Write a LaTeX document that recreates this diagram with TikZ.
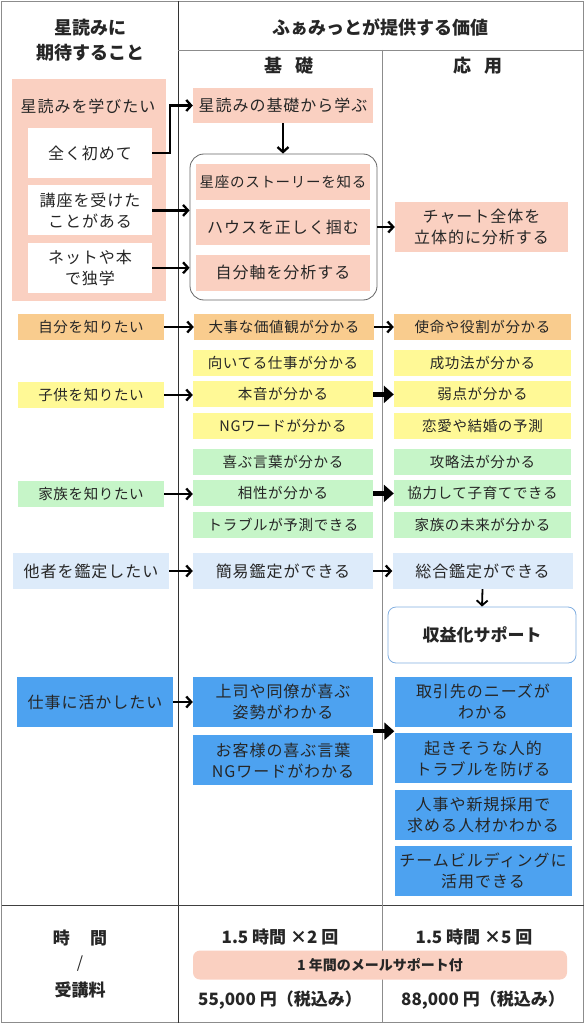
\documentclass[tikz,border=0pt]{standalone}
\usepackage{fontspec}
\setmainfont{Noto Sans CJK JP}
\usepackage{xcolor}
\usepackage{tikz}
\usetikzlibrary{arrows.meta,positioning}
\definecolor{pinkbg}{RGB}{250,208,193}
\definecolor{orangebg}{RGB}{249,204,142}
\definecolor{yellowbg}{RGB}{255,249,150}
\definecolor{greenbg}{RGB}{198,245,200}
\definecolor{skybg}{RGB}{221,235,250}
\definecolor{bluebg}{RGB}{77,162,240}
\definecolor{lineblue}{RGB}{130,175,225}
\newcommand{\bigtxt}{\fontsize{16}{21}\selectfont\addfontfeature{LetterSpace=6}}
\newcommand{\smalltxt}{\fontsize{14.5}{18}\selectfont\addfontfeature{LetterSpace=4.5}}
\newcommand{\headtxt}{\fontsize{18}{25}\selectfont\bfseries}
\newcommand{\sumtxt}{\fontsize{17}{20}\selectfont\bfseries}

\begin{document}
\begin{tikzpicture}[
    x=1pt, y=-1pt,
    box/.style={
        inner sep=0pt,
        align=center,
        text=black!85,
        font=\bigtxt
    },
    row/.style={box, minimum height=26pt, font=\smalltxt},
    mid/.style={minimum width=180pt},
    side/.style={minimum width=177pt},
    ask/.style={minimum width=146pt},
    arrow/.style={-{Straight Barb[length=5pt,width=11pt]}, line width=2.3pt},
    bigarrow/.style={-{Triangle[length=10pt,width=17pt]}, line width=4.5pt},
    rule/.style={draw=black!45, line width=0.8pt},
    node distance=5pt
]
\useasboundingbox (0,0) rectangle (585,1024);

\draw[rule] (1.5,1) rectangle (583.5,1022.5);
\draw[rule, draw=black!80] (178,1) -- (178,1022.5);
\draw[rule] (178,50) -- (583.5,50);
\draw[rule] (382,50) -- (382,905);
\draw[rule, draw=black!75] (1.5,905) -- (583.5,905);
\draw[rule] (382,905) -- (382,1022.5);

\node[box, font=\headtxt] (wish) at (90,40) {星読みに\\期待すること};
\node[box, font=\headtxt] (offer) at (380,27) {ふぁみっとが提供する価値};
\node[box, font=\headtxt] (basic) at (289,66) {基\hspace{0.75em}礎};
\node[box, font=\headtxt] (adv) at (478,66) {応\hspace{0.75em}用};

\node[fill=pinkbg, minimum width=154pt, minimum height=222pt] (learnbg) at (89,190) {};
\node[box] (learn) at (88,106) {星読みを学びたい};
\node[box, fill=white, minimum width=124pt, minimum height=50pt] (novice) at (90,153) {全く初めて};
\node[box, fill=white, minimum width=124pt, minimum height=50pt, below=7pt of novice] (course) {講座を受けた\\ことがある};
\node[box, fill=white, minimum width=124pt, minimum height=50pt, below=7pt of course] (selfstudy) {ネットや本\\で独学};

\node[box, mid, fill=pinkbg, minimum height=35pt] (basics) at (283,105.5) {星読みの基礎から学ぶ};
\node[draw=black!60, line width=0.8pt, rounded corners=14pt, minimum width=187pt, minimum height=146pt] (group) at (283.5,227) {};
\node[box, fill=pinkbg, minimum width=174pt, minimum height=36pt, font=\fontsize{14.5}{18}\selectfont\addfontfeature{LetterSpace=5}] (story) at (283,182) {星座のストーリーを知る};
\node[box, fill=pinkbg, minimum width=174pt, minimum height=36pt, below=9pt of story] (house) {ハウスを正しく掴む};
\node[box, fill=pinkbg, minimum width=174pt, minimum height=36pt, below=9pt of house] (axis) {自分軸を分析する};
\node[box, fill=pinkbg, minimum width=173pt, minimum height=50pt] (chart) at (481.5,227) {チャート全体を\\立体的に分析する};

\draw[arrow] (novice.east) -- ++(18,0) |- (basics.west);
\draw[arrow] (course.east) -- (course.east -| group.west);
\draw[arrow] (selfstudy.east) -- (selfstudy.east -| group.west);
\draw[arrow] (basics.south) -- (basics.south |- group.north);
\draw[arrow] (group.east) -- (chart.west);

\node[row, ask, fill=orangebg] (self) at (91,327) {自分を知りたい};
\node[row, mid, fill=orangebg] (values) at (284,327) {大事な価値観が分かる};
\node[row, side, fill=orangebg] (mission) at (482.5,327) {使命や役割が分かる};
\draw[arrow] (self) -- (values);
\draw[arrow] (values) -- (mission);

\node[row, mid, fill=yellowbg] (job) at (283,363) {向いてる仕事が分かる};
\node[row, mid, fill=yellowbg, below=of job] (honne) {本音が分かる};
\node[row, mid, fill=yellowbg, below=of honne] (ngword) {NGワードが分かる};
\node[row, side, fill=yellowbg] (success) at (482.5,363) {成功法が分かる};
\node[row, side, fill=yellowbg, below=of success] (weak) {弱点が分かる};
\node[row, side, fill=yellowbg, below=of weak] (love) {恋愛や結婚の予測};
\node[row, ask, fill=yellowbg] (child) at (91,395) {子供を知りたい};
\draw[arrow] (child) -- (child -| honne.west);
\draw[bigarrow] (honne.east) -- (honne.east -| weak.west);

\node[row, mid, fill=greenbg] (words) at (283,462) {喜ぶ言葉が分かる};
\node[row, mid, fill=greenbg, below=of words] (match) {相性が分かる};
\node[row, mid, fill=greenbg, below=of match] (trouble) {トラブルが予測できる};
\node[row, side, fill=greenbg] (tactic) at (482.5,462) {攻略法が分かる};
\node[row, side, fill=greenbg, below=of tactic] (coop) {協力して子育てできる};
\node[row, side, fill=greenbg, below=of coop] (future) {家族の未来が分かる};
\node[row, ask, fill=greenbg] (family) at (91,494) {家族を知りたい};
\draw[arrow] (family) -- (family -| match.west);
\draw[bigarrow] (match.east) -- (match.east -| coop.west);

\node[box, fill=skybg, minimum width=156pt, minimum height=36pt] (others) at (91,571) {他者を鑑定したい};
\node[box, mid, fill=skybg, minimum height=36pt] (simple) at (283,571) {簡易鑑定ができる};
\node[box, mid, fill=skybg, minimum height=36pt] (full) at (482.5,571) {総合鑑定ができる};
\node[box, draw=lineblue, line width=0.8pt, fill=white, rounded corners=8pt, minimum width=188pt, minimum height=56pt, font=\fontsize{17}{20}\selectfont\bfseries] (monetize) at (482,635) {収益化サポート};
\draw[arrow] (others) -- (simple);
\draw[arrow] (simple) -- (full);
\draw[arrow, line width=1.8pt] (full.south) -- (monetize.north);

\node[box, fill=bluebg, minimum width=156pt, minimum height=50pt] (work) at (95,702) {仕事に活かしたい};
\node[box, mid, fill=bluebg, minimum height=50pt] (boss) at (283,702) {上司や同僚が喜ぶ\\姿勢がわかる};
\node[box, mid, fill=bluebg, minimum height=50pt, below=8pt of boss] (guest) {お客様の喜ぶ言葉\\NGワードがわかる};
\node[box, side, fill=bluebg, minimum height=50pt] (client) at (483,702) {取引先のニーズが\\わかる};
\node[box, side, fill=bluebg, minimum height=50pt, below=6pt of client] (human) {起きそうな人的\\トラブルを防げる};
\node[box, side, fill=bluebg, minimum height=50pt, below=6pt of human] (hiring) {人事や新規採用で\\求める人材かわかる};
\node[box, side, fill=bluebg, minimum height=50pt, below=6pt of hiring] (team) {チームビルディングに\\活用できる};
\draw[arrow] (work) -- (boss);
\draw[bigarrow] ([yshift=-4pt]boss.south east) -- ([yshift=-4pt]boss.south east -| client.west);

\node[box, font=\sumtxt] (timelbl) at (80,938) {時\hspace{1.2em}間};
\node[box, font=\fontsize{16}{20}\selectfont] (slash) at (80,964) {/};
\node[box, font=\sumtxt] (feelbl) at (80,990) {受講料};
\node[box, font=\sumtxt] (basictime) at (280,937) {1.5 時間 ×2 回};
\node[box, font=\sumtxt] (advtime) at (474,937) {1.5 時間 ×5 回};
\node[box, fill=pinkbg, rounded corners=7pt, minimum width=374pt, minimum height=29pt, font=\fontsize{14}{18}\selectfont\bfseries] (mail) at (380,965) {1 年間のメールサポート付};
\node[box, font=\sumtxt] (basicfee) at (280,1000) {55,000 円（税込み）};
\node[box, font=\sumtxt] (advfee) at (483,1000) {88,000 円（税込み）};
\end{tikzpicture}
\end{document}
